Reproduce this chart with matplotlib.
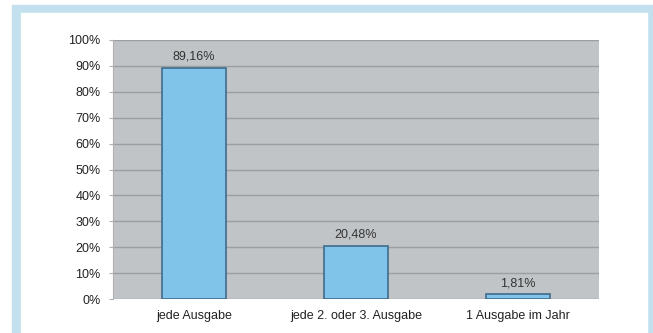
import matplotlib.pyplot as plt
from matplotlib.patches import Rectangle

categories = ['jede Ausgabe', 'jede 2. oder 3. Ausgabe', '1 Ausgabe im Jahr']
values = [89.16, 20.48, 1.81]
value_labels = ['89,16%', '20,48%', '1,81%']
y_ticks = [0, 10, 20, 30, 40, 50, 60, 70, 80, 90, 100]

plt.rcParams['font.family'] = ['Liberation Sans', 'DejaVu Sans']

W, H = 653, 333
fig = plt.figure(figsize=(W / 100, H / 100), dpi=100)
fig.patch.set_facecolor('white')

# light blue frame around the chart
frame = '#c3e0ef'
fig.add_artist(Rectangle((12 / W, 0), (W - 12) / W, (H - 5) / H,
                         transform=fig.transFigure, color=frame, zorder=-10))
fig.add_artist(Rectangle((21 / W, 0), (647 - 21) / W, (H - 13) / H,
                         transform=fig.transFigure, color='white', zorder=-9))

ax = fig.add_axes([113 / W, (H - 299) / H, (599 - 113) / W, (299 - 40) / H])
ax.set_zorder(1)
ax.set_facecolor('#c1c4c7')

x = range(len(categories))
ax.bar(x, values, width=0.4, color='#80c5e9', edgecolor='#3f6c8c', linewidth=1.2, zorder=3)
for i, v in enumerate(values):
    ax.text(i, v + 2, value_labels[i], ha='center', va='bottom', fontsize=9, color='#333333')

ax.set_xlim(-0.5, 2.5)
ax.set_ylim(0, 100)
ax.set_yticks(y_ticks)
ax.set_yticklabels([f'{t}%' for t in y_ticks])
ax.set_xticks(list(x))
ax.set_xticklabels(categories)
ax.yaxis.grid(True, color='#9c9fa2', linewidth=1.0, zorder=0)
ax.set_axisbelow(True)
for s in ['top', 'right', 'bottom']:
    ax.spines[s].set_visible(False)
ax.spines['left'].set_color('#b0b0b0')
ax.tick_params(axis='y', length=3, color='#b0b0b0', labelsize=9, labelcolor='#222222', pad=6)
ax.tick_params(axis='x', length=0, labelsize=9, labelcolor='#222222', pad=8)

fig.savefig('out.png', dpi=100)
